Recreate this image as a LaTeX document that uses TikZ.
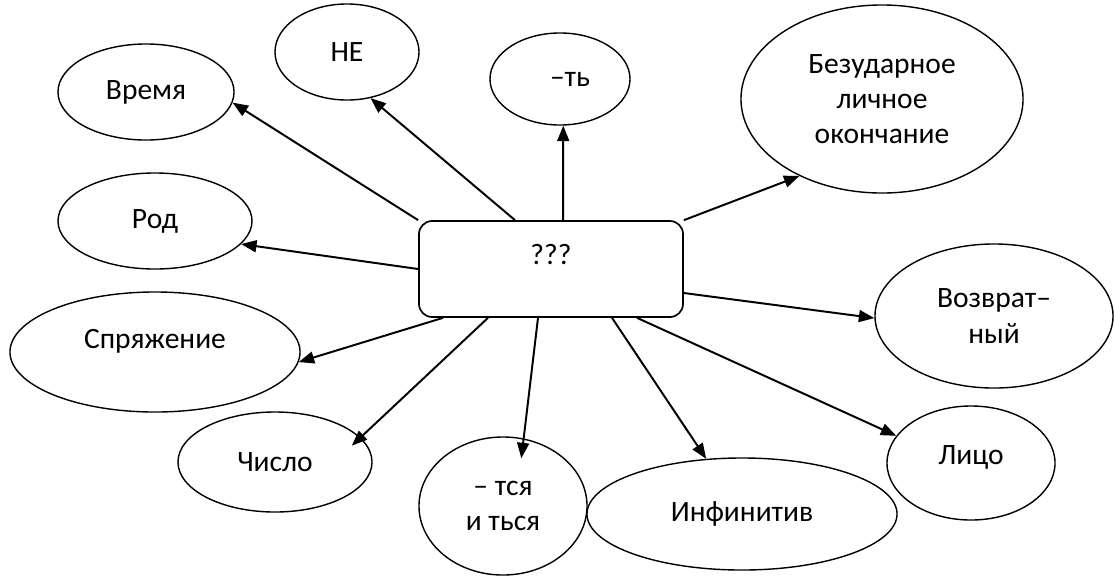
\documentclass[tikz,border=0pt]{standalone}
\usepackage{fontspec}
\setmainfont{Carlito}
\usetikzlibrary{arrows.meta,shapes.geometric}

\begin{document}
\begin{tikzpicture}[x=0.025cm, y=-0.025cm,
    oval/.style={draw, line width=1pt, ellipse, inner sep=0pt, align=center,
      font=\fontsize{21}{25}\selectfont},
    qbox/.style={draw, line width=1.2pt, rounded corners=0.33cm, inner sep=0pt,
      minimum width=6.6cm, minimum height=2.4cm, text height=14pt, text depth=20pt,
      font=\fontsize{21}{25}\selectfont},
    arr/.style={line width=1.4pt, -{Triangle[length=11pt,width=8.5pt]}}]
    \useasboundingbox (0,0) rectangle (1115,579);

    % 中间的方框
    \node[qbox] (q) at (551,269) {???};

    % 周围的椭圆
    \node[oval, minimum width=4.4cm, minimum height=2.4cm] (vr) at (146,92) {Время};
    \node[oval, minimum width=3.6cm, minimum height=2.4cm] (ne) at (347,52) {НЕ};
    \node[oval, minimum width=3.5cm, minimum height=2.3cm] (ty) at (560,79) {\hspace{0.5cm}–ть};
    \node[oval, minimum width=7.05cm, minimum height=4.7cm] (bz) at (882,99) {Безударное\\личное\\окончание};
    \node[oval, minimum width=4.85cm, minimum height=2.4cm] (rd) at (155,221) {Род};
    \node[oval, minimum width=7.25cm, minimum height=3cm, text depth=18pt] (sp) at (155,352) {Спряжение};
    \node[oval, minimum width=4.85cm, minimum height=2.5cm] (ch) at (275,462) {Число};
    \node[oval, minimum width=4.2cm, minimum height=3.45cm] (ts) at (503,506) {– тся\\и ться};
    \node[oval, minimum width=7.75cm, minimum height=2.8cm] (inf) at (742,514) {Инфинитив};
    \node[oval, minimum width=4.2cm, minimum height=2.85cm, text depth=11pt] (lc) at (971,463) {Лицо};
    \node[oval, minimum width=5.95cm, minimum height=3.6cm] (vz) at (994,316) {Возврат–\\ный};

    % 箭头
    \draw[arr] (q.north west) -- (vr.-7);
    \draw[arr] ([xshift=-0.9cm]q.north) -- (ne.-63);
    \draw[arr] ([xshift=0.3cm]q.north) -- (ty.-86);
    \draw[arr] (q.north east) -- (bz.223);
    \draw[arr] (q.west) -- (rd.-15);
    \draw[arr] ([yshift=-0.6cm]q.east) -- (vz.181);
    \draw[arr] ([xshift=-2.7cm]q.south) -- (sp.-4);
    \draw[arr, shorten >=-0.3cm] ([xshift=-1.575cm]q.south) -- (ch.16);
    \draw[arr, shorten >=-0.5cm] ([xshift=-0.325cm]q.south) -- (ts.73);
    \draw[arr] ([xshift=1.525cm]q.south) -- (inf.123);
    \draw[arr] ([xshift=2.15cm]q.south) -- (lc.160);
\end{tikzpicture}
\end{document}
